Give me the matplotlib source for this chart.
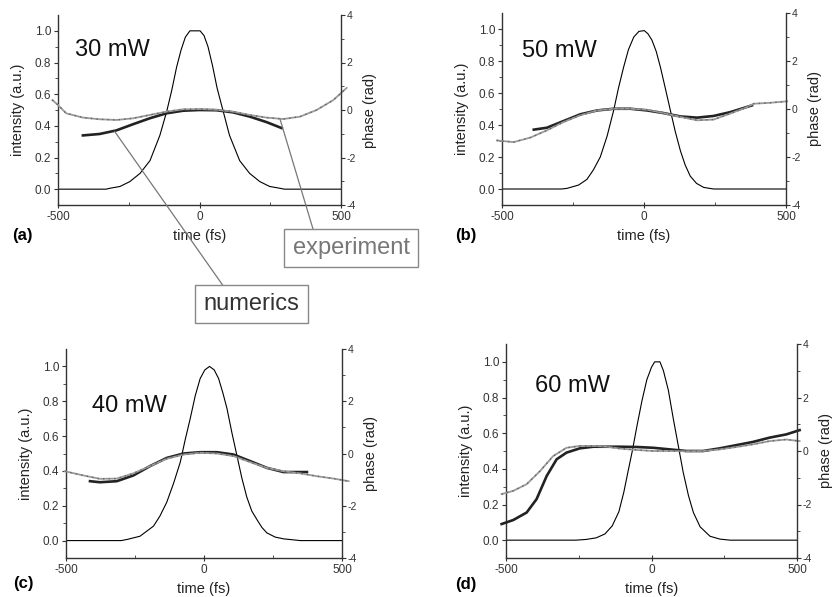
import matplotlib
matplotlib.use("Agg")
import matplotlib.pyplot as plt

plt.rcParams['font.family'] = ['Liberation Sans', 'DejaVu Sans']
plt.rcParams['axes.unicode_minus'] = False

# intensity traces (a.u.) vs time (fs)
t_int_a = [-500, -330, -316, -281, -246, -210, -175, -140, -116, -98, -81, -65, -50, -34, 2, 16, 30, 46, 62, 84, 106, 142, 177, 213, 248, 283, 300, 500]
int_a = [0, 0, 0.006, 0.017, 0.048, 0.10, 0.18, 0.34, 0.49, 0.625, 0.77, 0.88, 0.96, 1.0, 1.0, 0.97, 0.90, 0.78, 0.64, 0.49, 0.34, 0.18, 0.10, 0.048, 0.017, 0.006, 0, 0]
t_int_b = [-500, -290, -271, -230, -201, -178, -154, -130, -107, -90, -72, -55, -36, -18, 1, 14, 28, 43, 58, 75, 93, 110, 128, 145, 163, 185, 210, 245, 500]
int_b = [0, 0, 0.004, 0.025, 0.06, 0.12, 0.20, 0.33, 0.49, 0.63, 0.76, 0.87, 0.95, 0.985, 0.99, 0.97, 0.93, 0.86, 0.76, 0.63, 0.49, 0.36, 0.24, 0.15, 0.08, 0.035, 0.01, 0, 0]
t_int_c = [-500, -300, -280, -232, -183, -160, -135, -110, -86, -68, -50, -32, -14, 3, 20, 37, 53, 68, 83, 101, 119, 137, 155, 173, 192, 210, 228, 258, 288, 349, 500]
int_c = [0, 0, 0.006, 0.025, 0.083, 0.14, 0.22, 0.33, 0.45, 0.58, 0.70, 0.83, 0.93, 0.98, 1.0, 0.98, 0.93, 0.85, 0.76, 0.62, 0.49, 0.36, 0.25, 0.17, 0.12, 0.075, 0.044, 0.02, 0.01, 0, 0]
t_int_d = [-500, -260, -225, -190, -160, -135, -112, -95, -80, -66, -50, -33, -16, 0, 11, 29, 41, 58, 75, 92, 109, 127, 144, 167, 201, 235, 270, 500]
int_d = [0, 0, 0.004, 0.013, 0.035, 0.08, 0.16, 0.27, 0.39, 0.5, 0.64, 0.78, 0.9, 0.97, 1.0, 1.0, 0.95, 0.84, 0.68, 0.53, 0.38, 0.25, 0.155, 0.075, 0.022, 0.006, 0, 0]

# phase (rad): experiment
t_exp_a = [-520, -500, -471, -412, -353, -294, -235, -176, -117, -58, 0, 60, 119, 178, 237, 296, 355, 414, 473, 520]
exp_a = [0.42, 0.21, -0.14, -0.32, -0.39, -0.42, -0.35, -0.21, -0.07, 0.03, 0.04, 0.01, -0.07, -0.21, -0.32, -0.38, -0.28, 0.0, 0.42, 0.93]
t_exp_b = [-518, -459, -400, -342, -283, -224, -165, -107, -48, 11, 69, 128, 187, 245, 304, 363, 386, 445, 504]
exp_b = [-1.31, -1.38, -1.19, -0.89, -0.54, -0.26, -0.06, 0.01, 0.01, -0.03, -0.17, -0.33, -0.47, -0.44, -0.19, 0.08, 0.22, 0.26, 0.32]
t_exp_c = [-504, -437, -377, -316, -256, -195, -135, -74, -14, 47, 107, 167, 228, 288, 349, 409, 470, 524]
exp_c = [-0.68, -0.84, -0.97, -0.96, -0.76, -0.48, -0.20, -0.04, 0.03, 0.0, -0.10, -0.33, -0.55, -0.68, -0.76, -0.87, -0.96, -1.06]
t_exp_d = [-515, -475, -429, -383, -338, -292, -246, -200, -154, -109, -51, 6, 63, 120, 177, 235, 292, 349, 406, 463, 509]
exp_d = [-1.61, -1.49, -1.24, -0.75, -0.19, 0.12, 0.19, 0.19, 0.16, 0.09, 0.04, 0.0, 0.0, -0.01, 0.0, 0.06, 0.15, 0.25, 0.37, 0.43, 0.37]

# phase (rad): numerics
t_num_a = [-412, -353, -294, -235, -176, -117, -58, 0, 60, 119, 178, 237, 290]
num_a = [-1.07, -1.01, -0.86, -0.60, -0.35, -0.14, -0.03, 0.0, -0.01, -0.10, -0.28, -0.51, -0.76]
t_num_b = [-388, -342, -283, -224, -165, -107, -48, 11, 69, 128, 187, 245, 304, 380]
num_b = [-0.86, -0.78, -0.50, -0.22, -0.06, 0.01, 0.01, -0.06, -0.17, -0.31, -0.36, -0.29, -0.13, 0.15]
t_num_c = [-413, -377, -316, -256, -195, -135, -74, -14, 47, 107, 167, 228, 288, 373]
num_c = [-1.06, -1.10, -1.06, -0.84, -0.48, -0.17, 0.0, 0.05, 0.05, -0.04, -0.29, -0.55, -0.71, -0.71]
t_num_d = [-515, -475, -429, -395, -360, -326, -292, -246, -200, -109, -51, 6, 63, 120, 177, 235, 292, 349, 406, 463, 509]
num_d = [-2.73, -2.58, -2.30, -1.80, -0.93, -0.31, -0.06, 0.10, 0.16, 0.16, 0.15, 0.12, 0.06, 0.0, 0.0, 0.10, 0.22, 0.34, 0.50, 0.62, 0.78]

powers = ["30 mW", "50 mW", "40 mW", "60 mW"]
letters = ["(a)", "(b)", "(c)", "(d)"]

W, H = 834, 597
fig = plt.figure(figsize=(W / 100, H / 100), dpi=100)

def px(l, t, r, b):
    return [l / W, 1 - b / H, (r - l) / W, (b - t) / H]

# axes boxes in pixels (left, top, right, bottom)
boxes = [(58, 15, 341, 205), (502, 13, 786, 205), (66, 349, 342, 558), (506, 344, 797, 558)]
power_pos = [(-440, 0.84), (-430, 0.825), (-406, 0.74), (-400, 0.83)]
letter_pos = [(12, 240), (455, 240), (13, 588), (455, 589)]

data = [
    (t_int_a, int_a, t_exp_a, exp_a, t_num_a, num_a),
    (t_int_b, int_b, t_exp_b, exp_b, t_num_b, num_b),
    (t_int_c, int_c, t_exp_c, exp_c, t_num_c, num_c),
    (t_int_d, int_d, t_exp_d, exp_d, t_num_d, num_d),
]

spine_c = "#333333"
axes2 = []
for i, (ti, yi, te, ye, tn, yn) in enumerate(data):
    ax = fig.add_axes(px(*boxes[i]))
    ax2 = ax.twinx()
    ax.plot(ti, yi, color="black", lw=0.8)
    ax2.plot(tn, yn, color="#222222", lw=1.9, clip_on=False)
    ax2.plot(te, ye, color="#9a9a9a", lw=1.3, clip_on=False)
    ax2.plot(te, ye, color="#666666", lw=1.0, ls=(0, (1, 3)), clip_on=False)

    ax.set_xlim(-500, 500)
    ax.set_ylim(-0.1, 1.1)
    ax2.set_ylim(-4, 4)
    ax.set_xticks([-500, 0, 500])
    ax.set_xticks([-250, 250], minor=True)
    ax.set_yticks([0.0, 0.2, 0.4, 0.6, 0.8, 1.0])
    ax.set_yticklabels(["0.0", "0.2", "0.4", "0.6", "0.8", "1.0"])
    ax.set_yticks([0.1, 0.3, 0.5, 0.7, 0.9], minor=True)
    ax2.set_yticks([-4, -2, 0, 2, 4])
    ax2.set_yticks([-3, -1, 1, 3], minor=True)

    for a in (ax, ax2):
        a.spines["top"].set_visible(False)
        for s in a.spines.values():
            s.set_color(spine_c)
            s.set_linewidth(1.0)
    ax.spines["right"].set_visible(False)
    ax2.spines["left"].set_visible(False)
    ax2.spines["bottom"].set_visible(False)

    ax.tick_params(axis="y", which="major", direction="out", length=3, width=0.8,
                   labelsize=8.5, colors=spine_c, pad=2)
    ax.tick_params(axis="y", which="minor", direction="out", length=2, width=0.6, colors=spine_c)
    ax.tick_params(axis="x", which="major", direction="inout", length=5, width=0.8,
                   labelsize=8.5, colors=spine_c, pad=2)
    ax.tick_params(axis="x", which="minor", direction="in", length=2.5, width=0.6, colors=spine_c)
    ax2.tick_params(axis="y", which="major", direction="out", length=3, width=0.8,
                    labelsize=7.5, colors=spine_c, pad=1)
    ax2.tick_params(axis="y", which="minor", direction="out", length=2, width=0.6, colors=spine_c)

    ax.set_xlabel("time (fs)", fontsize=10.5, color="#222222", labelpad=4)
    ax.set_ylabel("intensity (a.u.)", fontsize=10.5, color="#222222", labelpad=7)
    ax2.set_ylabel("phase (rad)", fontsize=10.5, color="#222222", labelpad=5)

    ax.text(power_pos[i][0], power_pos[i][1], powers[i], fontsize=17, color="#111111",
            ha="left", va="baseline")
    lx, ly = letter_pos[i]
    fig.text(lx / W, 1 - ly / H, letters[i], fontsize=12, fontweight="bold",
             ha="left", va="baseline")
    axes2.append(ax2)

# annotation boxes
fig.text(251.5 / W, 1 - 304 / H, "numerics", fontsize=17, color="#333333",
         ha="center", va="center",
         bbox=dict(boxstyle="square,pad=0.35", fc="white", ec="#888888", lw=1.0))
fig.text(351 / W, 1 - 248 / H, "experiment", fontsize=17, color="#777777",
         ha="center", va="center",
         bbox=dict(boxstyle="square,pad=0.35", fc="white", ec="#888888", lw=1.0))

axes2[0].annotate("", xy=(-300, -0.9), xycoords="data",
                  xytext=(224 / W, 1 - 287 / H), textcoords="figure fraction",
                  arrowprops=dict(arrowstyle="-", color="#777777", lw=0.9, shrinkA=0, shrinkB=0),
                  annotation_clip=False)
axes2[0].annotate("", xy=(285, -0.4), xycoords="data",
                  xytext=(313 / W, 1 - 229 / H), textcoords="figure fraction",
                  arrowprops=dict(arrowstyle="-", color="#777777", lw=0.9, shrinkA=0, shrinkB=0),
                  annotation_clip=False)

fig.savefig("out.png", dpi=100)
